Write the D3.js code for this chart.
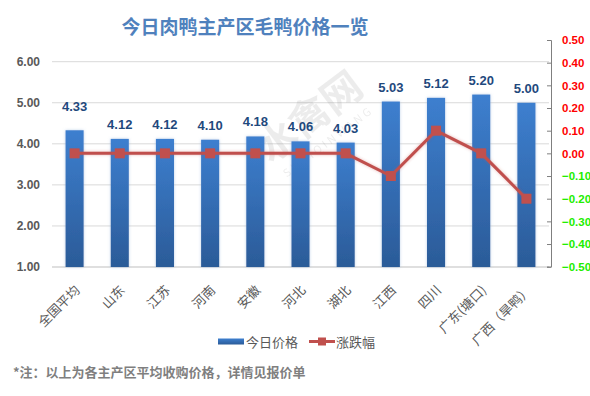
<!DOCTYPE html>
<html><head><meta charset="utf-8">
<script src="https://cdn.jsdelivr.net/npm/d3@7"></script>
<style>
html,body{margin:0;padding:0;background:#fff;}
svg{display:block;font-family:"Noto Sans CJK SC","Liberation Sans",sans-serif;}
</style></head>
<body>
<svg id="chart" width="590" height="396"></svg>
<script>
const categories = ["全国平均","山东","江苏","河南","安徽","河北","湖北","江西","四川","广东(塘口)","广西（旱鸭）"];
const prices = [4.33,4.12,4.12,4.10,4.18,4.06,4.03,5.03,5.12,5.20,5.00];
const changes = [0.00,0.00,0.00,0.00,0.00,0.00,0.00,-0.10,0.10,0.00,-0.20];
const leftTicks = [1,2,3,4,5,6];
const rightTicks = [-0.5,-0.4,-0.3,-0.2,-0.1,0,0.1,0.2,0.3,0.4,0.5];
const seriesNames = ["今日价格","涨跌幅"];
const title = "今日肉鸭主产区毛鸭价格一览";
const note = "*注：以上为各主产区平均收购价格，详情见报价单";

const svg = d3.select("#chart");
const L = 52, R = 549, T = 40.5, B = 267;

const defs = svg.append("defs");
const grad = defs.append("linearGradient").attr("id","barGrad").attr("x1",0).attr("y1",0).attr("x2",0).attr("y2",1);
grad.append("stop").attr("offset","0%").attr("stop-color","#3d7fcf");
grad.append("stop").attr("offset","100%").attr("stop-color","#2b5b98");
const sh = defs.append("filter").attr("id","glow").attr("x","-50%").attr("y","-20%").attr("width","200%").attr("height","140%");
sh.append("feGaussianBlur").attr("in","SourceAlpha").attr("stdDeviation",1.6).attr("result","b");
sh.append("feFlood").attr("flood-color","#8fb0d8").attr("flood-opacity",0.6);
sh.append("feComposite").attr("in2","b").attr("operator","in").attr("result","s");
const m = sh.append("feMerge"); m.append("feMergeNode").attr("in","s"); m.append("feMergeNode").attr("in","SourceGraphic");
const lg = defs.append("filter").attr("id","lglow").attr("x","-20%").attr("y","-50%").attr("width","140%").attr("height","200%");
lg.append("feGaussianBlur").attr("in","SourceGraphic").attr("stdDeviation",1.5).attr("result","b");
lg.append("feColorMatrix").attr("in","b").attr("type","matrix").attr("values","1 0 0 0 0  0 1 0 0 0  0 0 1 0 0  0 0 0 0.4 0").attr("result","s");
const m2 = lg.append("feMerge"); m2.append("feMergeNode").attr("in","s"); m2.append("feMergeNode").attr("in","SourceGraphic");

const x = d3.scaleBand().domain(categories).range([L, R]).paddingInner(0.6).paddingOuter(0.3);
const y = d3.scaleLinear().domain([1,6]).range([B, 61.7]);
const y2 = d3.scaleLinear().domain([-0.5,0.5]).range([266.7, 40]);

// title
svg.append("text").attr("x",245).attr("y",34).attr("text-anchor","middle")
  .attr("font-size",19).attr("font-weight","bold").attr("fill","#4f81bd").text(title);

// gridlines
svg.append("g").selectAll("line").data(leftTicks.slice(1)).join("line")
  .attr("x1",L).attr("x2",R).attr("y1",d=>y(d)).attr("y2",d=>y(d))
  .attr("stroke","#d9d9d9").attr("stroke-width",1);
svg.append("line").attr("x1",L).attr("x2",R).attr("y1",y(1)).attr("y2",y(1)).attr("stroke","#bfbfbf");

// left axis
const ax = svg.append("g").attr("transform",`translate(${L},0)`)
  .call(d3.axisLeft(y).tickValues(leftTicks).tickFormat(d3.format(".2f")).tickSize(0).tickPadding(12));
ax.select(".domain").remove();
ax.selectAll("text").attr("font-family","'Liberation Sans',Arial,sans-serif").attr("font-size",12).attr("font-weight","bold").attr("fill","#595959");

// right axis
const ar = svg.append("g").attr("transform","translate(551,0)")
  .call(d3.axisRight(y2).tickValues(rightTicks).tickFormat(d3.format(".2f")).tickSizeInner(-4).tickSizeOuter(-4).tickPadding(11));
ar.select(".domain").attr("stroke","#7f7f7f");
ar.selectAll(".tick line").attr("stroke","#7f7f7f");
ar.selectAll("text").attr("font-family","'Liberation Sans',Arial,sans-serif").attr("font-size",11.5).attr("font-weight","bold")
  .attr("fill",d=>d<0?"#22ee00":"#ff0000");

// watermark
const wm = svg.append("g").attr("transform","translate(318,128) rotate(-37)").attr("opacity",0.13);
wm.append("text").attr("text-anchor","middle").attr("font-size",40).attr("font-weight","bold").attr("fill","#777").text("水禽网");
wm.append("text").attr("y",21).attr("text-anchor","middle").attr("font-size",11).attr("letter-spacing",3).attr("fill","#777").text("SHUIQINWANG");

// bars
svg.append("g").selectAll("rect").data(prices).join("rect")
  .attr("x",(d,i)=>x(categories[i])).attr("width",x.bandwidth())
  .attr("y",d=>y(d)).attr("height",d=>y(1)-y(d))
  .attr("fill","url(#barGrad)").attr("filter","url(#glow)");

// value labels
svg.append("g").selectAll("text").data(prices).join("text")
  .attr("x",(d,i)=>x(categories[i])+x.bandwidth()/2)
  .attr("y",(d,i)=>y(d)-(i===0?19:10))
  .attr("text-anchor","middle").attr("font-family","'Liberation Sans',Arial,sans-serif")
  .attr("font-size",13).attr("font-weight","bold").attr("fill","#1f497d")
  .text(d=>d3.format(".2f")(d));

// line
const cx = i => x(categories[i]) + x.bandwidth()/2;
svg.append("path").datum(changes)
  .attr("d", d3.line().x((d,i)=>cx(i)).y(d=>y2(d)))
  .attr("fill","none").attr("stroke","#c0504d").attr("stroke-width",3).attr("filter","url(#lglow)");
svg.append("g").selectAll("rect").data(changes).join("rect")
  .attr("x",(d,i)=>cx(i)-5).attr("y",d=>y2(d)-5).attr("width",10).attr("height",10)
  .attr("fill","#c0504d");

// x labels
svg.append("g").selectAll("text").data(categories).join("text")
  .attr("transform",(d,i)=>`translate(${cx(i)+6},${291}) rotate(-45)`)
  .attr("text-anchor","end").attr("font-size",13).attr("fill","#595959").text(d=>d);

// legend
const leg = svg.append("g");
leg.append("rect").attr("x",218).attr("y",338.5).attr("width",26).attr("height",6).attr("fill","url(#barGrad)");
leg.append("text").attr("x",246).attr("y",346.5).attr("font-size",13).attr("fill","#595959").text(seriesNames[0]);
leg.append("line").attr("x1",309).attr("x2",335).attr("y1",341.5).attr("y2",341.5).attr("stroke","#c0504d").attr("stroke-width",3);
leg.append("rect").attr("x",318).attr("y",337.5).attr("width",8).attr("height",8).attr("fill","#c0504d");
leg.append("text").attr("x",336).attr("y",346.5).attr("font-size",13).attr("fill","#595959").text(seriesNames[1]);

// note
svg.append("text").attr("x",13).attr("y",377).attr("font-size",13).attr("font-weight","bold").attr("fill","#7f7f7f").text(note);
</script>
</body></html>
